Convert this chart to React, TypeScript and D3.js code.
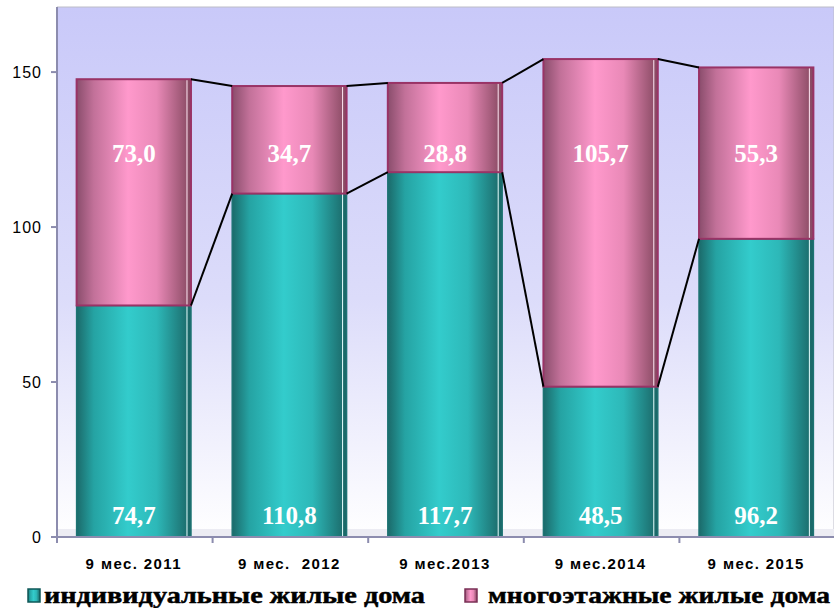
import * as d3 from 'd3';

const categories = ['9 мес. 2011', '9 мес.  2012', '9 мес.2013', '9 мес.2014', '9 мес. 2015'];
const individual = [74.7, 110.8, 117.7, 48.5, 96.2];
const multiStorey = [73.0, 34.7, 28.8, 105.7, 55.3];
const yTicks = [0, 50, 100, 150];
const legendLabels = ['индивидуальные жилые дома', 'многоэтажные жилые дома'];

const fmt = (v: number) => v.toFixed(1).replace('.', ',');

const serif = "'Liberation Serif', 'Times New Roman', serif";
const sans = "'Liberation Sans', Arial, sans-serif";

export default function App() {
  const width = 834;
  const height = 608;
  const left = 57;
  const right = 835;
  const top = 7;
  const bottom = 537;

  const x = d3.scaleBand<string>().domain(categories).range([left, right]).paddingInner(0).paddingOuter(0);
  const y = d3.scaleLinear().domain([0, 171]).range([bottom, top]);
  const barW = x.bandwidth() * 0.735;
  const barX = (c: string) => (x(c) ?? 0) + (x.bandwidth() - barW) / 2 - 1;

  const totals = individual.map((v, i) => v + multiStorey[i]);

  const connector = (vals: number[]) =>
    vals.slice(0, -1).map((v, i) => ({
      x1: barX(categories[i]) + barW,
      y1: y(v),
      x2: barX(categories[i + 1]),
      y2: y(vals[i + 1]),
    }));

  const links = [...connector(individual), ...connector(totals)];

  return (
    <svg width={width} height={height} style={{ position: 'absolute', left: 0, top: 0 }}>
      <defs>
        <linearGradient id="bg" x1="0" y1="0" x2="0" y2="1">
          <stop offset="0" stopColor="#c9c9f9" />
          <stop offset="0.55" stopColor="#dcdcfa" />
          <stop offset="1" stopColor="#ffffff" />
        </linearGradient>
        <linearGradient id="teal" x1="0" y1="0" x2="1" y2="0">
          <stop offset="0" stopColor="#1b6a6a" />
          <stop offset="0.15" stopColor="#25a3a3" />
          <stop offset="0.45" stopColor="#33cccc" />
          <stop offset="0.7" stopColor="#2db8b8" />
          <stop offset="1" stopColor="#1a6565" />
        </linearGradient>
        <linearGradient id="pink" x1="0" y1="0" x2="1" y2="0">
          <stop offset="0" stopColor="#8a4d6c" />
          <stop offset="0.15" stopColor="#c27199" />
          <stop offset="0.45" stopColor="#ff99cc" />
          <stop offset="0.7" stopColor="#e989b7" />
          <stop offset="1" stopColor="#84475f" />
        </linearGradient>
      </defs>

      <rect x={left} y={top} width={right - left} height={bottom - top} fill="url(#bg)" />
      <line x1={left} x2={right} y1={top} y2={top} stroke="#bdbdc8" />
      <line x1={right - 1} x2={right - 1} y1={top} y2={bottom} stroke="#bdbdc8" />
      <rect x={left} y={bottom - 8} width={right - left} height={8} fill="#ececf3" />

      {categories.map((c, i) => {
        const bx = barX(c);
        const yi = y(individual[i]);
        const yt = y(totals[i]);
        return (
          <g key={c}>
            <rect x={bx} y={yi} width={barW} height={bottom - yi} fill="url(#teal)" stroke="#1d7373" strokeWidth={1.5} />
            <line x1={bx + barW - 4} x2={bx + barW - 4} y1={yi} y2={bottom} stroke="#e8ffff" strokeWidth={1} />
            <rect x={bx} y={yt} width={barW} height={yi - yt} fill="url(#pink)" stroke="#993366" strokeWidth={2} />
            <line x1={bx + barW - 4} x2={bx + barW - 4} y1={yt + 1} y2={yi - 1} stroke="#ffe8f4" strokeWidth={1} />
          </g>
        );
      })}

      {links.map((l, i) => (
        <line key={i} x1={l.x1} y1={l.y1} x2={l.x2} y2={l.y2} stroke="#000" strokeWidth={2} />
      ))}

      {categories.map((c, i) => (
        <g key={c} style={{ fontFamily: serif }} fontWeight="bold" fontSize={25} fill="#fff" textAnchor="middle">
          <text x={barX(c) + barW / 2} y={524}>{fmt(individual[i])}</text>
          <text x={barX(c) + barW / 2} y={162}>{fmt(multiStorey[i])}</text>
        </g>
      ))}

      <line x1={left} x2={left} y1={top} y2={bottom} stroke="#8c8cae" strokeWidth={2} />
      <line x1={left} x2={right} y1={bottom} y2={bottom} stroke="#8c8cae" strokeWidth={2} />
      {yTicks.map((t) => (
        <g key={t}>
          <line x1={left - 6} x2={left} y1={y(t)} y2={y(t)} stroke="#8c8cae" strokeWidth={2} />
          <text x={left - 15} y={y(t) + 6} textAnchor="end" style={{ fontFamily: sans }} fontSize={16} letterSpacing={1} fill="#000">
            {t}
          </text>
        </g>
      ))}
      {categories.map((c) => (
        <line key={c} x1={x(c)} x2={x(c)} y1={bottom} y2={bottom + 6} stroke="#8c8cae" strokeWidth={2} />
      ))}
      {categories.map((c) => (
        <text
          key={c}
          x={(x(c) ?? 0) + x.bandwidth() / 2 - 1}
          y={569}
          textAnchor="middle"
          fontWeight="bold"
          fontSize={15}
          letterSpacing={1.4}
          style={{ whiteSpace: 'pre', fontFamily: sans }}
        >
          {c}
        </text>
      ))}

      <g>
        <rect x={28} y={589} width={12} height={13} fill="url(#teal)" stroke="#0f5858" strokeWidth={1.5} />
        <text
          x={44}
          y={603}
          style={{ fontFamily: serif }}
          fontWeight="bold"
          fontSize={24}
          stroke="#000"
          strokeWidth={0.5}
          textLength={381}
          lengthAdjust="spacingAndGlyphs"
        >
          {legendLabels[0]}
        </text>
        <rect x={465} y={589} width={12} height={13} fill="url(#pink)" stroke="#7a2f55" strokeWidth={1.5} />
        <text
          x={488}
          y={603}
          style={{ fontFamily: serif }}
          fontWeight="bold"
          fontSize={24}
          stroke="#000"
          strokeWidth={0.5}
          textLength={342}
          lengthAdjust="spacingAndGlyphs"
        >
          {legendLabels[1]}
        </text>
      </g>
    </svg>
  );
}
